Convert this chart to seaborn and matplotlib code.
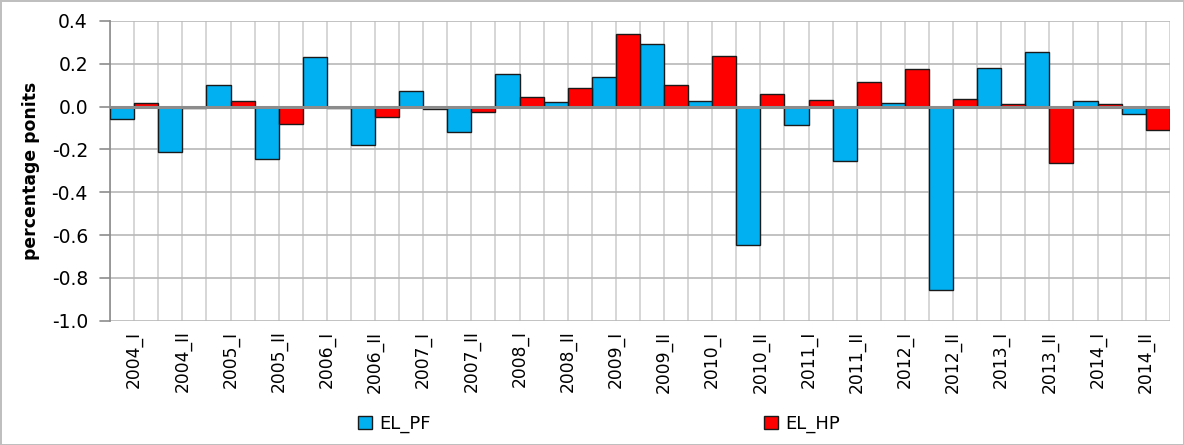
import pandas as pd
import matplotlib.pyplot as plt
import seaborn as sns

# ---------------------------------------------------------------
# Data: half-year contributions (percentage points)
# ---------------------------------------------------------------
periods = ['2004_I', '2004_II', '2005_I', '2005_II', '2006_I', '2006_II',
           '2007_I', '2007_II', '2008_I', '2008_II', '2009_I', '2009_II',
           '2010_I', '2010_II', '2011_I', '2011_II', '2012_I', '2012_II',
           '2013_I', '2013_II', '2014_I', '2014_II']
el_pf = [-0.06, -0.21, 0.10, -0.245, 0.23, -0.18, 0.075, -0.12, 0.15, 0.02,
         0.14, 0.29, 0.025, -0.645, -0.085, -0.255, 0.015, -0.855, 0.18, 0.255,
         0.025, -0.035]
el_hp = [0.015, -0.005, 0.025, -0.08, -0.005, -0.05, -0.01, -0.025, 0.045, 0.085,
         0.34, 0.10, 0.235, 0.06, 0.03, 0.115, 0.175, 0.035, 0.01, -0.265,
         0.01, -0.11]
series_names = ['EL_PF', 'EL_HP']
series_colors = ['#00B0F0', '#FF0000']

df = pd.DataFrame({
    'period': periods * 2,
    'value': el_pf + el_hp,
    'series': [series_names[0]] * len(periods) + [series_names[1]] * len(periods),
})

# ---------------------------------------------------------------
# Plot
# ---------------------------------------------------------------
sns.set_theme(style='white')
plt.rcParams['font.family'] = ['DejaVu Sans']
plt.rcParams['axes.unicode_minus'] = False
plt.rcParams['text.color'] = 'black'
plt.rcParams['axes.labelcolor'] = 'black'
plt.rcParams['xtick.color'] = 'black'
plt.rcParams['ytick.color'] = 'black'

fig = plt.figure(figsize=(11.84, 4.45), dpi=100, edgecolor='#BFBFBF', linewidth=2)
ax = fig.add_axes([0.093, 0.279, 0.895, 0.674])

sns.barplot(data=df, x='period', y='value', hue='series', palette=series_colors,
            saturation=1, width=1.0, edgecolor='#1a1a1a', linewidth=1.0,
            ax=ax, zorder=3)

ax.set_xlim(-0.5, len(periods) - 0.5)
ax.set_ylim(-1.0, 0.4)
ax.set_yticks([-1.0, -0.8, -0.6, -0.4, -0.2, 0.0, 0.2, 0.4])
ax.set_yticklabels([f'{v:.1f}' for v in ax.get_yticks()], fontsize=13.5)

# gridlines between every bar (half-category spacing)
for i in range(2 * len(periods) + 1):
    ax.axvline(-0.5 + i * 0.5, color='#CFCFCF', linewidth=1.2, zorder=1)
for v in [-1.0, -0.8, -0.6, -0.4, -0.2, 0.2, 0.4]:
    ax.axhline(v, color='#B8B8B8', linewidth=1.2, zorder=1)
ax.axhline(0.0, color='#8C8C8C', linewidth=2.2, zorder=4)

for s in ['top', 'right', 'bottom']:
    ax.spines[s].set_visible(False)
ax.spines['left'].set_color('#8C8C8C')
ax.spines['left'].set_linewidth(1.2)

ax.set_xticks(range(len(periods)))
ax.set_xticklabels(periods, rotation=90, fontsize=12.3)
ax.tick_params(axis='x', length=0, pad=7)
ax.tick_params(axis='y', length=0, pad=16)
ax.set_xlabel('')
ax.set_ylabel('percentage ponits', fontsize=12.4, fontweight='bold', labelpad=8)

# short outer tick marks on the value axis
for v in ax.get_yticks():
    ax.plot([-0.72, -0.5], [v, v], color='#8C8C8C', linewidth=1.2,
            clip_on=False, zorder=2)
ax.set_xlim(-0.5, len(periods) - 0.5)

ax.get_legend().remove()
handles, labels = ax.get_legend_handles_labels()
fig.legend(handles[:2], labels[:2], loc='center', bbox_to_anchor=(0.506, 0.048),
           ncol=2, frameon=False, fontsize=13, handlelength=0.75, handleheight=0.75,
           handletextpad=0.4, columnspacing=18.5, borderpad=0.1)

fig.savefig('out.png', dpi=100)
